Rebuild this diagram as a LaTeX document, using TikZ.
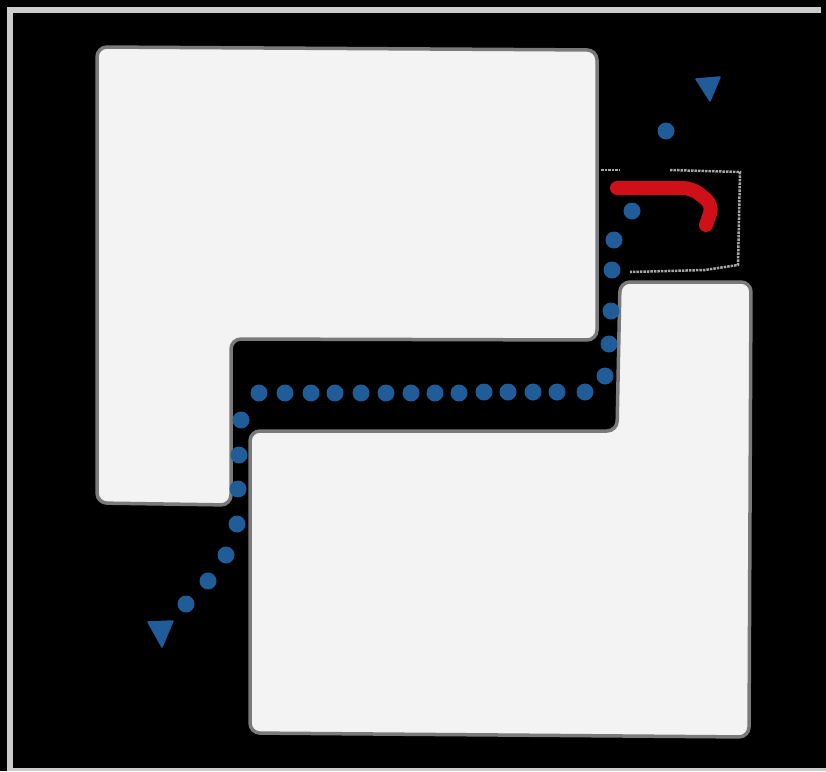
\documentclass[tikz,border=0pt]{standalone}
\usetikzlibrary{positioning}

\definecolor{wallfill}{HTML}{F3F3F3}
\definecolor{wallline}{HTML}{7A7A7A}
\definecolor{pathblue}{HTML}{1F5C98}
\definecolor{turnred}{HTML}{D01018}

\begin{document}
\begin{tikzpicture}[x=1pt, y=-1pt,
  wall/.style={fill=wallfill, draw=wallline, line width=3.5pt, rounded corners=10pt},
  d/.style={circle, fill=pathblue, minimum size=17pt, inner sep=0pt},
  tip/.style={fill=pathblue, draw=pathblue, line width=1.5pt, line join=round},
  rim/.style={gray!70, densely dotted, line width=2.5pt}]
  % background
  \fill[black] (0,0) rectangle (826,771);
  \fill[gray!40] (7,7) rectangle (821,13);
  \fill[gray!40] (7,7) rectangle (13,771);
  \fill[gray!40] (7,768) rectangle (826,771);
  % walls
  \draw[wall] (97,47) -- (597,50) -- (597,340) -- (231,339) -- (231,505) -- (97,503) -- cycle;
  \draw[wall] (620,282) -- (751,282) -- (749,737) -- (250,733) -- (250,431) -- (617,431) -- cycle;
  % box
  \draw[rim] (601,170) -- (620,170);
  \draw[rim] (670,170) -- (740,172) -- (738,265) -- (705,270) -- (630,272);
  % dots
  \foreach \px/\py [count=\i] in {666/131, 632/211, 614/240, 612/270, 611/311, 609/344, 605/376,
                     585/392, 557/392, 533/392, 508/392, 484/392, 459/393, 435/393, 411/393,
                     386/393, 361/393, 335/393, 311/393, 285/393, 259/393,
                     241/420, 239/455, 238/489, 237/524, 226/555, 208/581, 186/604}
    \node[d] (d\i) at (\px,\py) {};
  % end marks
  \draw[tip] (696,79) -- (720,77) -- (710,101) -- cycle;
  \draw[tip] (148,622) -- (173,621) -- (162,647) -- cycle;
  % turn
  \draw[turnred, line width=14pt, line cap=round, line join=round, rounded corners=9pt]
    (617,188) -- (692,188) -- (713,205) -- (706,225);
\end{tikzpicture}
\end{document}
